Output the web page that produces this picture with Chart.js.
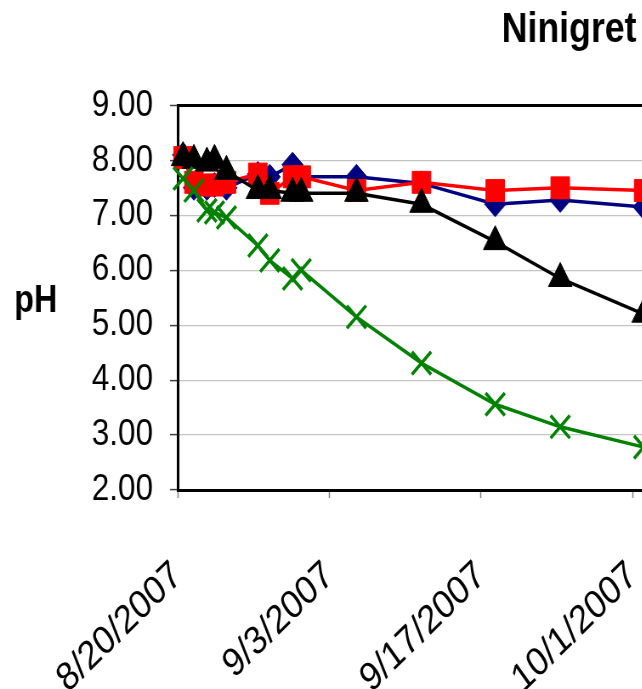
<!DOCTYPE html>
<html>
<head>
<meta charset="utf-8">
<script src="https://cdn.jsdelivr.net/npm/chart.js@4/dist/chart.umd.min.js"></script>
<style>
  html, body { margin: 0; padding: 0; overflow: hidden; background: #fff; }
  /* the source picture is squeezed sideways and cut off on the right */
  #wrap { width: 642px; height: 689px; overflow: hidden; }
  #myChart { display: block; transform: scaleX(0.85); transform-origin: 0 0; }
</style>
</head>
<body>
<div id="wrap"><canvas id="myChart" width="1339" height="689"></canvas></div>
<script>
//----DATA---- days after 8/20/2007
const startDate = new Date(2007, 7, 20);
const sampleDays = [0.5, 1.5, 2.7, 3.4, 4.5, 7.4, 8.5, 10.6, 11.4, 16.5, 22.5, 29.3, 35.3, 43.0];
const blueSeries  = [8.10, 7.50, 7.50, 7.55, 7.50, 7.75, 7.70, 7.92, 7.70, 7.70, 7.58, 7.20, 7.28, 7.15];
const redSeries   = [8.05, 7.60, 7.55, 7.55, 7.60, 7.75, 7.40, 7.70, 7.70, 7.45, 7.60, 7.45, 7.50, 7.45];
const blackSeries = [8.05, 8.00, 7.95, 8.00, 7.80, 7.45, 7.45, 7.40, 7.40, 7.40, 7.20, 6.52, 5.85, 5.20];
const greenSeries = [7.67, 7.45, 7.09, 7.05, 6.96, 6.45, 6.18, 5.85, 6.00, 5.15, 4.31, 3.56, 3.15, 2.78];
const yTicks = [2, 9, 1]; // min, max, step
const xTicks = [0, 87.1, 14];

const FONT = "'Liberation Sans', Arial, sans-serif";
const pts = (vals) => vals.map((v, i) => ({x: sampleDays[i], y: v}));

//----PLUGINS----
const yTitle = { // horizontal "pH" label left of the axis
    id: 'yTitle',
    afterDraw(chart) {
        const ctx = chart.ctx;
        ctx.save();
        ctx.font = 'bold 38px ' + FONT;
        ctx.fillStyle = '#000';
        ctx.textAlign = 'center';
        ctx.textBaseline = 'alphabetic';
        ctx.fillText('pH', 42, 312);
        ctx.restore();
    }
};

const series = (label, vals, color, style, r, order) => ({
    label, data: pts(vals), order,
    borderColor: color, backgroundColor: color,
    borderWidth: 3.5, tension: 0, clip: false,
    pointStyle: style, pointRadius: r, pointHoverRadius: r,
    pointBackgroundColor: color, pointBorderColor: color, pointBorderWidth: style === 'crossRot' ? 3.5 : 1
});

//-----CONFIG-----
const config = {
    type: 'line',
    data: {
        datasets: [
            series('Series 1', blueSeries, '#000080', 'rectRot', 12.5, 4),
            series('Series 2', redSeries, '#ff0000', 'rect', 15.5, 3),
            series('Series 3', blackSeries, '#000000', 'triangle', 16, 2),
            series('Series 4', greenSeries, '#008000', 'crossRot', 16, 1)
        ]
    },
    options: {
        responsive: false,
        animation: false,
        devicePixelRatio: 1,
        layout: {padding: 0},
        scales: {
            x: {
                type: 'linear',
                min: xTicks[0], max: xTicks[1],
                afterFit: (s) => { s.height = 199; s.paddingRight = 0; },
                ticks: {
                    stepSize: xTicks[2], autoSkip: false,
                    minRotation: 40, maxRotation: 40, padding: 54,
                    color: '#000', font: {family: FONT, size: 40},
                    callback: (v) => {
                        const d = new Date(startDate.getTime() + v * 86400000);
                        return (d.getMonth() + 1) + '/' + d.getDate() + '/' + d.getFullYear();
                    }
                },
                grid: {drawOnChartArea: false, drawTicks: true, tickLength: 8, tickColor: '#808080', tickWidth: 1.5},
                border: {color: '#000', width: 3}
            },
            y: {
                min: yTicks[0], max: yTicks[1],
                afterFit: (s) => { s.width = 209; },
                ticks: {
                    stepSize: yTicks[2], padding: 20,
                    color: '#000', font: {family: FONT, size: 37},
                    callback: (v) => v.toFixed(2)
                },
                grid: {
                    color: (c) => c.tick && c.tick.value === yTicks[1] ? '#000' : '#c4c4c4',
                    lineWidth: (c) => c.tick && c.tick.value === yTicks[1] ? 3 : 1.2,
                    tickLength: 9, tickColor: '#404040', tickWidth: 1.5
                },
                border: {color: '#000', width: 3}
            }
        },
        plugins: {
            legend: {display: false},
            tooltip: {enabled: false},
            title: {
                display: true, text: 'Ninigret', color: '#000',
                font: {family: FONT, size: 42, weight: 'bold'},
                padding: {top: 5, bottom: 50}
            }
        }
    },
    plugins: [yTitle]
};

const myChart = new Chart(document.getElementById('myChart'), config);
</script>
</body>
</html>
